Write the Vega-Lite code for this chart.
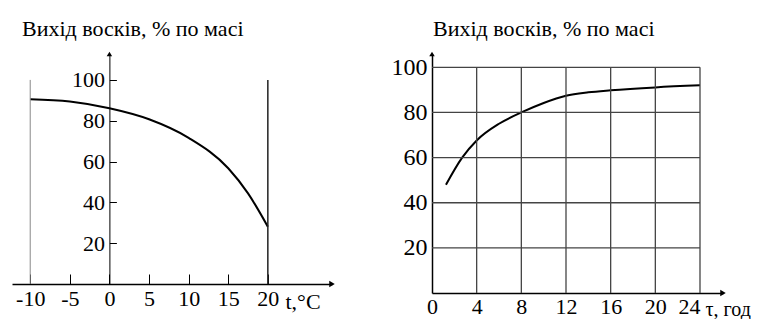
{
  "$schema": "https://vega.github.io/schema/vega-lite/v6.json",
  "background": "white",
  "padding": {"left": 12, "top": 17, "right": 0, "bottom": 0},
  "spacing": 100,
  "bounds": "flush",
  "config": {
    "view": {"stroke": null},
    "font": "Liberation Serif, Times New Roman, Times, serif",
    "axis": {"labelColor": "black", "domainColor": "black", "tickColor": "black", "grid": false, "labelFont": "Liberation Serif, Times New Roman, Times, serif", "titleFont": "Liberation Serif, Times New Roman, Times, serif", "titleColor": "black", "titleFontWeight": "normal"},
    "title": {"font": "Liberation Serif, Times New Roman, Times, serif", "fontWeight": "normal", "color": "black"}
  },
  "datasets": {
    "temp": [
      {"x": -10, "y": 90.5}, {"x": -5, "y": 89.4}, {"x": 0, "y": 86.1}, {"x": 5, "y": 80.7},
      {"x": 10, "y": 71.6}, {"x": 15, "y": 56.7}, {"x": 17.5, "y": 44.4}, {"x": 20, "y": 28.1}
    ],
    "time": [
      {"x": 1.25, "y": 48}, {"x": 2.7, "y": 60}, {"x": 4, "y": 67.6}, {"x": 6, "y": 75},
      {"x": 8, "y": 80}, {"x": 10, "y": 84.2}, {"x": 12, "y": 87.4}, {"x": 14, "y": 88.9},
      {"x": 16, "y": 89.8}, {"x": 20, "y": 91.1}, {"x": 24, "y": 92}
    ],
    "gridV": [{"x": 4}, {"x": 8}, {"x": 12}, {"x": 16}, {"x": 20}, {"x": 24}],
    "gridH": [{"y": 20}, {"y": 40}, {"y": 60}, {"y": 80}, {"y": 100}]
  },
  "hconcat": [
    {
      "width": 320,
      "height": 230,
      "title": {"text": "Вихід восків, % по масі", "font": "Liberation Serif, Times New Roman, Times, serif", "anchor": "start", "frame": "group", "fontSize": 22, "dx": 10, "offset": -6, "baseline": "alphabetic"},
      "layer": [
        {
          "data": {"name": "temp"},
          "mark": {"type": "line", "color": "black", "strokeWidth": 2, "interpolate": "monotone"},
          "encoding": {
            "x": {"field": "x", "type": "quantitative", "scale": {"domain": [-12.3, 28.1], "nice": false, "zero": false},
              "axis": {"title": "t,°C", "titleX": 273, "titleY": 24, "titleAlign": "left", "titleBaseline": "alphabetic", "titleFontSize": 22, "titleAngle": 0,
                "values": [-10, -5, 0, 5, 10, 15, 20], "labelExpr": "replace(datum.label, '−', '-')", "labelFont": "Liberation Serif, Times New Roman, Times, serif", "labelFontSize": 22, "tickSize": -10, "labelPadding": 14, "domainWidth": 1.5, "tickWidth": 1}},
            "y": {"field": "y", "type": "quantitative", "scale": {"domain": [0, 112.7], "nice": false, "zero": false},
              "axis": {"title": null, "values": [20, 40, 60, 80, 100], "labelFont": "Liberation Serif, Times New Roman, Times, serif", "labelFontSize": 22, "offset": -97.4, "tickSize": -7, "labelPadding": 12, "domainWidth": 1, "tickWidth": 1}}
          }
        },
        {
          "data": {"values": [{"x": -10}]},
          "mark": {"type": "rule", "color": "#888", "strokeWidth": 1},
          "encoding": {
            "x": {"field": "x", "type": "quantitative"},
            "y": {"datum": 0},
            "y2": {"datum": 100}
          }
        },
        {
          "data": {"values": [{"x": 20}]},
          "mark": {"type": "rule", "color": "#222", "strokeWidth": 1.5},
          "encoding": {
            "x": {"field": "x", "type": "quantitative"},
            "y": {"datum": 0},
            "y2": {"datum": 100}
          }
        },
        {
          "data": {"values": [{"x": 28.1, "y": 0}]},
          "mark": {"type": "point", "shape": "triangle-right", "filled": true, "color": "black", "size": 40, "opacity": 1},
          "encoding": {"x": {"field": "x", "type": "quantitative"}, "y": {"field": "y", "type": "quantitative"}}
        },
        {
          "data": {"values": [{"x": 0, "y": 112.7}]},
          "mark": {"type": "point", "shape": "triangle-up", "filled": true, "color": "black", "size": 30, "opacity": 1},
          "encoding": {"x": {"field": "x", "type": "quantitative"}, "y": {"field": "y", "type": "quantitative"}}
        }
      ]
    },
    {
      "width": 291,
      "height": 239,
      "title": {"text": "Вихід восків, % по масі", "font": "Liberation Serif, Times New Roman, Times, serif", "anchor": "start", "frame": "group", "fontSize": 22, "dx": 1, "offset": -6, "baseline": "alphabetic"},
      "layer": [
        {
          "data": {"name": "time"},
          "mark": {"type": "line", "color": "black", "strokeWidth": 2, "interpolate": "monotone"},
          "encoding": {
            "x": {"field": "x", "type": "quantitative", "scale": {"domain": [0, 26.06], "nice": false, "zero": false},
              "axis": {"title": "τ, год", "titleX": 273, "titleY": 22, "titleAlign": "left", "titleBaseline": "alphabetic", "titleFontSize": 20, "titleAngle": 0,
                "values": [0, 4, 8, 12, 16, 20, 24], "labelFont": "Liberation Serif, Times New Roman, Times, serif", "labelFontSize": 22,
                "labelAlign": {"condition": {"test": "datum.value == 24", "value": "right"}, "value": "center"},
                "tickSize": 0, "labelPadding": 3, "domainWidth": 1.5}},
            "y": {"field": "y", "type": "quantitative", "scale": {"domain": [0, 105.9], "nice": false, "zero": false},
              "axis": {"title": null, "values": [20, 40, 60, 80, 100], "labelFont": "Liberation Serif, Times New Roman, Times, serif", "labelFontSize": 24, "tickSize": 0, "labelPadding": 5, "domainWidth": 1.5}}
          }
        },
        {
          "data": {"name": "gridV"},
          "mark": {"type": "rule", "color": "#444", "strokeWidth": 1.3},
          "encoding": {
            "x": {"field": "x", "type": "quantitative"},
            "y": {"datum": 0},
            "y2": {"datum": 100}
          }
        },
        {
          "data": {"name": "gridH"},
          "mark": {"type": "rule", "color": "#444", "strokeWidth": 1.3},
          "encoding": {
            "y": {"field": "y", "type": "quantitative"},
            "x": {"datum": 0},
            "x2": {"datum": 24}
          }
        },
        {
          "data": {"values": [{"x": 26.06, "y": 0}]},
          "mark": {"type": "point", "shape": "triangle-right", "filled": true, "color": "black", "size": 40, "opacity": 1},
          "encoding": {"x": {"field": "x", "type": "quantitative"}, "y": {"field": "y", "type": "quantitative"}}
        },
        {
          "data": {"values": [{"x": 0, "y": 105.9}]},
          "mark": {"type": "point", "shape": "triangle-up", "filled": true, "color": "black", "size": 30, "opacity": 1},
          "encoding": {"x": {"field": "x", "type": "quantitative"}, "y": {"field": "y", "type": "quantitative"}}
        }
      ]
    }
  ]
}
